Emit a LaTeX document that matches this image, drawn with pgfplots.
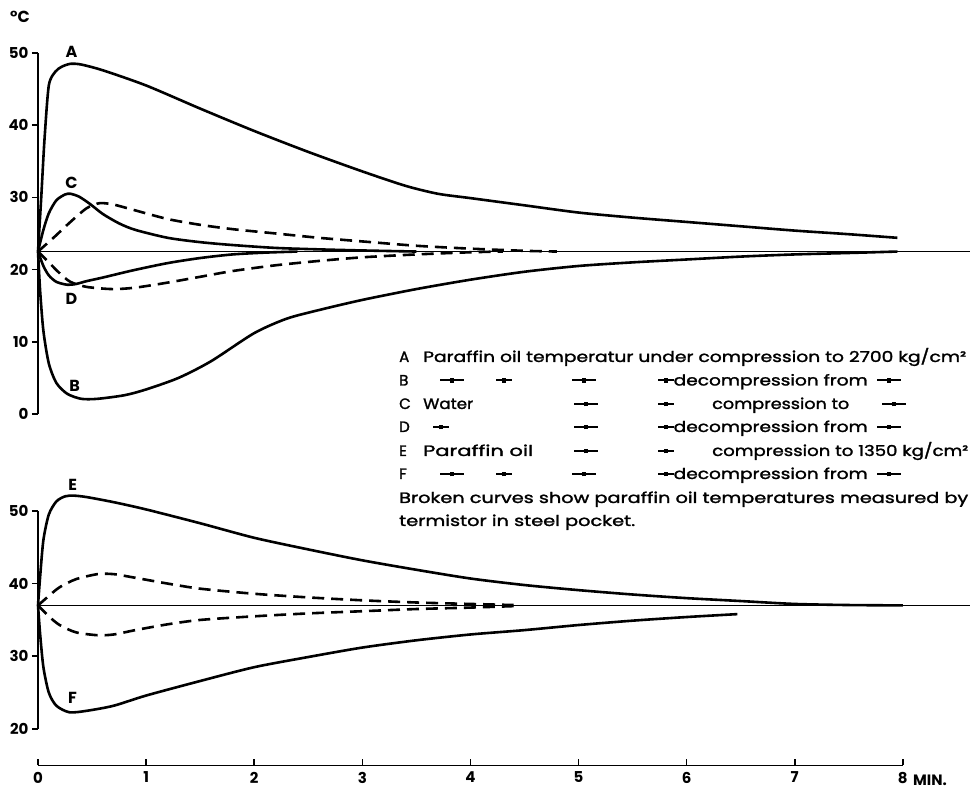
\documentclass[border=0pt]{standalone}
\usepackage{pgfplots}
\pgfplotsset{compat=1.18}
\usepackage{fontspec}
\setmainfont{Poppins}
\newfontfamily\legfont{Poppins}[FakeBold=1.5]
\newcommand{\dit}{\rule[0.28em]{10pt}{1.8pt}\rule[0.17em]{3.5pt}{4.5pt}\rule[0.28em]{10pt}{1.8pt}}
\newcommand{\dits}{\rule[0.28em]{6pt}{1.8pt}\rule[0.17em]{3.5pt}{4.5pt}\rule[0.28em]{6pt}{1.8pt}}
\newcommand{\fitw}[2]{\resizebox{#1}{\height}{#2}}
\tikzset{
  solidc/.style={line width=2.6pt, black, smooth, tension=0.45},
  dashc/.style={line width=2.6pt, black, smooth, tension=0.45, dash pattern=on 12pt off 7pt},
  basel/.style={line width=1.3pt, black},
  lbl/.style={font=\bfseries\fontsize{16}{16}\selectfont, inner sep=0pt},
}
\begin{document}
\begin{tikzpicture}
\useasboundingbox (0pt,0pt) rectangle (971pt,791pt);
% ---------------- upper panel ----------------
\begin{axis}[
  at={(38pt,377pt)}, anchor=south west,
  x=108.1pt, y=7.22pt,
  xmin=0, xmax=8, ymin=0, ymax=50,
  axis x line=none, axis y line=left,
  axis line style={-, line width=1.6pt},
  ytick={0,10,20,30,40,50},
  tick align=outside, major tick length=6pt,
  tick style={line width=1.6pt, black},
  /pgf/number format/assume math mode=true,
  yticklabel style={font=\bfseries\fontsize{15}{15}\selectfont},
  clip=false,
]
\addplot[basel] coordinates {(0,22.5) (8.62,22.5)};
% A
\addplot[solidc] coordinates {(0,22.5) (0.03,30) (0.06,38) (0.1,45.5) (0.16,47.4) (0.22,48.1) (0.3,48.5) (0.4,48.4) (0.6,47.6) (1.0,45.5) (1.5,42.3) (2.0,39.2) (2.5,36.3) (3.0,33.6) (3.4,31.6) (3.7,30.5) (4.0,29.9) (4.5,28.9) (5.0,27.9) (5.5,27.2) (6.0,26.6) (6.5,26.0) (7.0,25.4) (7.5,24.9) (7.95,24.4)};
% B
\addplot[solidc] coordinates {(0,22.5) (0.02,17) (0.05,11.5) (0.1,7) (0.17,4.3) (0.27,2.8) (0.4,2.1) (0.55,2.1) (0.8,2.6) (1.0,3.4) (1.3,5.0) (1.6,7.3) (2.0,11.2) (2.3,13.2) (2.6,14.4) (3.0,15.8) (3.5,17.3) (4.0,18.6) (4.5,19.7) (5.0,20.5) (5.5,21.0) (6.0,21.4) (6.5,21.8) (7.0,22.1) (7.5,22.3) (7.95,22.5)};
% C solid
\addplot[solidc] coordinates {(0,22.5) (0.05,25.5) (0.1,27.8) (0.17,29.6) (0.25,30.4) (0.3,30.5) (0.38,30.1) (0.48,29.1) (0.6,27.7) (0.75,26.4) (0.9,25.5) (1.2,24.4) (1.5,23.8) (1.8,23.4) (2.2,23.0) (2.6,22.8) (3.0,22.65) (3.5,22.5)};
% C dashed
\addplot[dashc] coordinates {(0,22.5) (0.15,24.5) (0.3,26.6) (0.45,28.5) (0.57,29.2) (0.7,29.0) (0.9,28.2) (1.2,27.0) (1.5,26.2) (1.8,25.6) (2.2,25.0) (2.6,24.4) (3.0,23.9) (3.5,23.3) (4.0,22.9) (4.5,22.6) (4.8,22.5)};
% D solid
\addplot[solidc] coordinates {(0,22.5) (0.05,20.5) (0.1,19.2) (0.17,18.3) (0.27,17.9) (0.35,18.0) (0.45,18.4) (0.6,18.9) (0.88,19.9) (1.2,20.9) (1.5,21.6) (1.8,22.1) (2.1,22.35) (2.4,22.5)};
% D dashed
\addplot[dashc] coordinates {(0,22.5) (0.1,21.0) (0.2,19.5) (0.3,18.3) (0.45,17.6) (0.69,17.3) (0.9,17.5) (1.2,18.2) (1.5,19.0) (1.8,19.8) (2.2,20.6) (2.6,21.2) (3.0,21.7) (3.5,22.1) (4.0,22.4) (4.3,22.5)};
\node[lbl] at (axis cs:0.31,50.2) {A};
\node[lbl] at (axis cs:0.31,32.0) {C};
\node[lbl] at (axis cs:0.31,15.9) {D};
\node[lbl] at (axis cs:0.34,3.9) {B};
\end{axis}
% ---------------- lower panel ----------------
\begin{axis}[
  at={(38pt,25.65pt)}, anchor=south west,
  x=108.1pt, y=7.27pt,
  xmin=0, xmax=8, ymin=15, ymax=50,
  axis x line=bottom, axis y line=left,
  axis line style={-, line width=1.6pt},
  y axis line style={draw=none},
  ytick={20,30,40,50},
  xtick={0,1,...,8},
  xtick align=inside, ytick align=outside, major tick length=6pt,
  tick style={line width=1.6pt, black},
  /pgf/number format/assume math mode=true,
  ticklabel style={font=\bfseries\fontsize{15}{15}\selectfont},
  xticklabel style={yshift=-3pt},
  clip=false,
]
\draw[line width=1.6pt] (axis cs:0,20) -- (axis cs:0,50);
\addplot[basel] coordinates {(0,37) (8.62,37)};
% E
\addplot[solidc] coordinates {(0,37) (0.02,41) (0.05,46) (0.1,49.5) (0.17,51.3) (0.25,52) (0.33,52.1) (0.45,51.9) (0.7,51.2) (1.0,50.2) (1.5,48.3) (2.0,46.3) (2.5,44.7) (3.0,43.2) (3.5,41.9) (4.0,40.7) (4.5,39.8) (5.0,39.1) (5.5,38.5) (6.0,38.0) (6.5,37.6) (7.0,37.2) (7.5,37.05) (8.0,37)};
% E dashed
\addplot[dashc] coordinates {(0,37) (0.1,38.3) (0.2,39.5) (0.35,40.6) (0.55,41.3) (0.7,41.3) (0.9,40.8) (1.2,40.0) (1.5,39.3) (2.0,38.6) (2.5,38.1) (3.0,37.7) (3.5,37.4) (4.0,37.2) (4.4,37.05)};
% F dashed
\addplot[dashc] coordinates {(0,37) (0.1,35.5) (0.2,34.3) (0.35,33.3) (0.55,32.9) (0.7,33.0) (0.9,33.6) (1.2,34.4) (1.5,35.0) (2.0,35.5) (2.5,35.9) (3.0,36.2) (3.5,36.5) (4.0,36.7) (4.4,36.9)};
% F
\addplot[solidc] coordinates {(0,37) (0.02,33) (0.05,28.5) (0.1,25) (0.17,23.2) (0.29,22.3) (0.45,22.5) (0.7,23.2) (1.0,24.6) (1.5,26.6) (2.0,28.5) (2.5,29.9) (3.0,31.2) (3.5,32.2) (4.0,33.0) (4.5,33.6) (5.0,34.3) (5.5,34.9) (6.0,35.4) (6.47,35.8)};
\node[lbl] at (axis cs:0.32,53.6) {E};
\node[lbl] at (axis cs:0.32,24.3) {F};
\end{axis}
% axis titles
\node[lbl, anchor=base west] at (10pt,768pt) {°C};
\node[lbl, anchor=base west, font=\bfseries\fontsize{15}{15}\selectfont] at (913pt,5pt) {MIN.};
% legend text
\begin{scope}[every node/.style={anchor=base west, inner sep=0pt, font=\legfont\fontsize{15}{15}\selectfont}]
\node at (399pt,429pt) {A};
\node at (423pt,429pt) {\fitw{543pt}{Paraffin oil temperatur under compression to 2700 kg/cm²}};
\node at (399pt,405.5pt) {B};
\node at (440pt,405.5pt) {\dit};
\node at (496pt,405.5pt) {\dits};
\node at (572pt,405.5pt) {\dit};
\node at (658pt,405.5pt) {\dits\fitw{194pt}{decompression from}};
\node at (877pt,405.5pt) {\dit};
\node at (399pt,382pt) {C};
\node at (423pt,382pt) {\fitw{50pt}{Water}};
\node at (574pt,382pt) {\dit};
\node at (658pt,382pt) {\dits};
\node at (712pt,382pt) {\fitw{137pt}{compression to}};
\node at (882pt,382pt) {\dit};
\node at (399pt,359pt) {D};
\node at (433pt,359pt) {\dits};
\node at (574pt,359pt) {\dit};
\node at (658pt,359pt) {\dits\fitw{194pt}{decompression from}};
\node at (877pt,359pt) {\dit};
\node at (399pt,335pt) {E};
\node at (423pt,335pt) {\fitw{110pt}{Paraffin oil}};
\node at (574pt,335pt) {\dit};
\node at (658pt,335pt) {\dits};
\node at (712pt,335pt) {\fitw{256pt}{compression to 1350 kg/cm²}};
\node at (399pt,312pt) {F};
\node at (440pt,312pt) {\dit};
\node at (496pt,312pt) {\dits};
\node at (572pt,312pt) {\dit};
\node at (658pt,312pt) {\dits\fitw{194pt}{decompression from}};
\node at (877pt,312pt) {\dit};
\node at (399pt,288pt) {\fitw{569pt}{Broken curves show paraffin oil temperatures measured by}};
\node at (399pt,265pt) {\fitw{236pt}{termistor in steel pocket.}};
\end{scope}
\end{tikzpicture}
\end{document}
